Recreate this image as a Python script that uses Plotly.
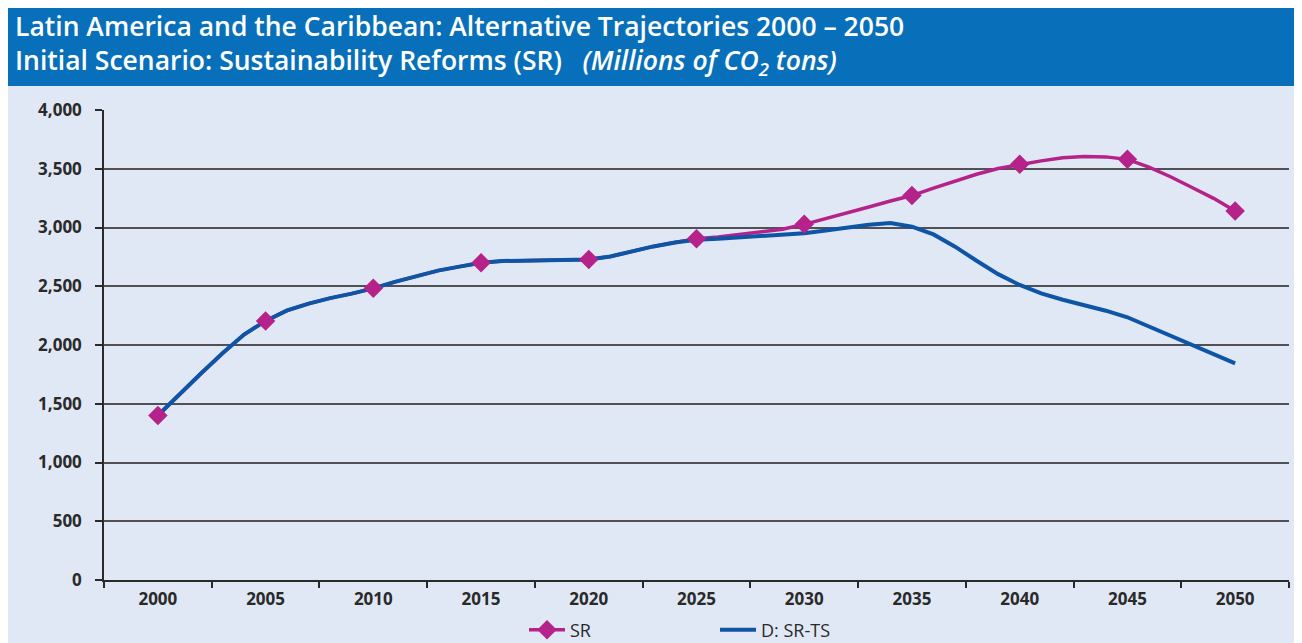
import plotly.graph_objects as go

years = list(range(2000, 2051))
sr = [1400, 1583, 1757, 1929, 2089, 2205, 2294, 2352, 2399, 2437,
      2482, 2537, 2588, 2633, 2667, 2700, 2715, 2717, 2717, 2719,
      2728, 2753, 2798, 2839, 2873, 2905, 2920, 2940, 2961, 2985,
      3027, 3074, 3124, 3174, 3225, 3272, 3335, 3394, 3453, 3502,
      3538, 3567, 3593, 3605, 3601, 3580, 3514, 3432, 3340, 3248, 3140]
d_sr_ts = [1400, 1583, 1757, 1929, 2089, 2205, 2294, 2352, 2399, 2437,
           2482, 2537, 2588, 2633, 2667, 2700, 2715, 2717, 2717, 2719,
           2728, 2753, 2798, 2839, 2873, 2895, 2905, 2917, 2928, 2940,
           2951, 2975, 3000, 3024, 3038, 3007, 2941, 2837, 2717, 2603,
           2511, 2440, 2385, 2340, 2292, 2236, 2157, 2079, 2001, 1922, 1844]
label_years = list(range(2000, 2051, 5))
sr_marker_vals = [sr[years.index(y)] for y in label_years]

MAGENTA = "#B4228A"
BLUE = "#0F55A6"
BANNER = "#0870BA"
BG = "#E0E8F5"
DARK = "#2A2A2A"
GRID = "#505055"

fig = go.Figure()
fig.add_trace(go.Scatter(x=years, y=sr, mode="lines", line=dict(color=MAGENTA, width=3.5),
                         showlegend=False, hoverinfo="skip"))
fig.add_trace(go.Scatter(x=years, y=d_sr_ts, mode="lines", line=dict(color=BLUE, width=4),
                         name="D: SR-TS", legendrank=2))
fig.add_trace(go.Scatter(x=label_years, y=sr_marker_vals, mode="markers",
                         marker=dict(symbol="diamond", size=15, color=MAGENTA),
                         showlegend=False))
fig.add_trace(go.Scatter(x=[None], y=[None], mode="lines+markers", name="SR",
                         line=dict(color=MAGENTA, width=3.5),
                         marker=dict(symbol="diamond", size=15, color=MAGENTA),
                         legendrank=1))

# figure is placed by the page with an 8px body margin
L, R, T, B = 96, 21, 102, 71
W, H = 1302, 643
pw, ph = W - L - R, H - T - B

def px(xp):
    return (xp - L) / pw

def py(yp):
    return 1 + (T - yp) / ph

title_text = ("Latin America and the Caribbean: Alternative Trajectories 2000 \u2013 2050<br>"
              "Initial Scenario: Sustainability Reforms (SR)   <i>(Millions of CO<sub>2</sub> tons)</i>")

fig.update_layout(
    width=W, height=H,
    margin=dict(l=L, r=R, t=T, b=B, pad=0, autoexpand=False),
    paper_bgcolor=BG, plot_bgcolor=BG,
    font=dict(family="Open Sans", color=DARK),
    showlegend=True,
    legend=dict(orientation="h", x=px(516), xanchor="left", y=py(622), yanchor="middle",
                font=dict(family="Open Sans", size=18, color=DARK), entrywidth=140,
                bgcolor="rgba(0,0,0,0)", itemwidth=36, traceorder="normal"),
    xaxis=dict(range=[1997.5, 2052.5], tickvals=label_years, ticktext=[str(y) for y in label_years],
               ticks="", showgrid=False, zeroline=False, showline=True, linecolor=DARK, linewidth=1.5,
               tickfont=dict(family="Open Sans", size=17, color=DARK, weight="bold"), ticklabelstandoff=3,
               minor=dict(tick0=1997.5, dtick=5, ticks="outside", ticklen=6, tickwidth=1.5,
                          tickcolor=DARK, showgrid=False)),
    yaxis=dict(range=[0, 4000], dtick=500, tickformat=",", ticks="outside", ticklen=7, tickwidth=1.5,
               tickcolor=DARK, showline=True, linecolor=DARK, linewidth=1.5, showgrid=True,
               gridcolor=GRID, gridwidth=1.5, zeroline=False,
               tickfont=dict(family="Open Sans", size=17, color=DARK, weight="bold"), ticklabelstandoff=10),
    shapes=[
        dict(type="rect", xref="paper", yref="paper", x0=px(0), x1=px(W), y0=py(0), y1=py(78),
             fillcolor=BANNER, line=dict(width=0), layer="above"),
    ],
    annotations=[
        dict(xref="paper", yref="paper", x=px(5), y=py(37), xanchor="left", yanchor="middle",
             align="left", showarrow=False, text=title_text,
             font=dict(family="Open Sans", size=26.5, color="white", weight=600)),
    ],
)

fig.write_html("out.html")
